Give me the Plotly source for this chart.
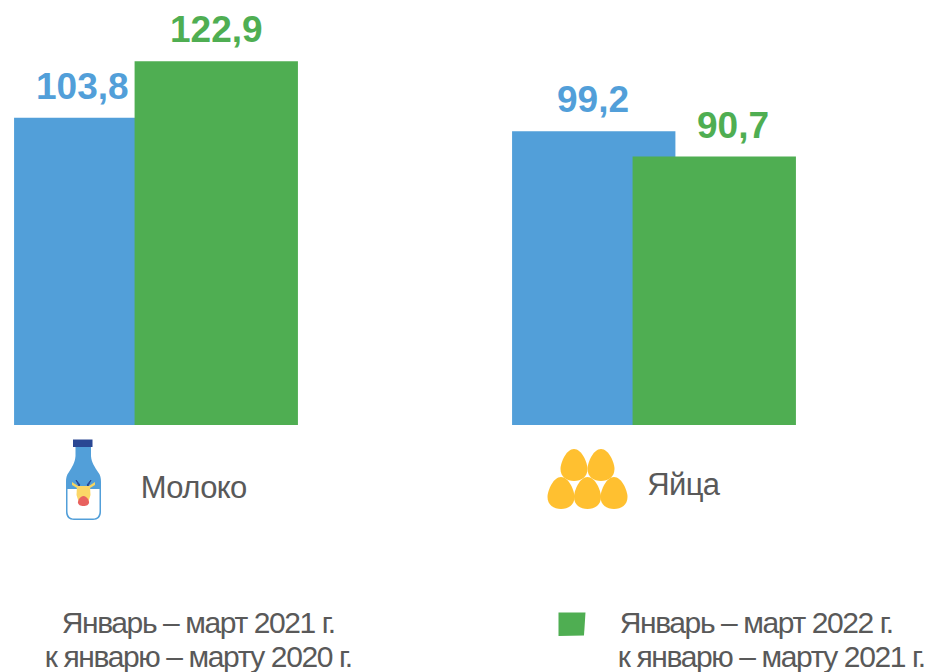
import plotly.graph_objects as go

categories = ["Молоко", "Яйца"]
series_2021 = [103.8, 99.2]
series_2022 = [122.9, 90.7]
legend_2021 = ["Январь – март 2021 г.", "к январю – марту 2020 г."]
legend_2022 = ["Январь – март 2022 г.", "к январю – марту 2021 г."]
BLUE = "#529FD9"
GREEN = "#4FAE52"
GREY = "#595959"
W, H = 928, 672
FONT = "Liberation Sans"


def px(x):
    return x / W


def py(y):
    return 1 - y / H


def path(points):
    return "M" + " L".join(f"{px(x):.5f},{py(y):.5f}" for x, y in points) + " Z"


def curve(start, segments):
    d = f"M{px(start[0]):.5f},{py(start[1]):.5f}"
    for seg in segments:
        if len(seg) == 2:
            d += f" L{px(seg[0]):.5f},{py(seg[1]):.5f}"
        else:
            d += " C" + " ".join(f"{px(seg[i]):.5f},{py(seg[i+1]):.5f}" for i in (0, 2, 4))
    return d + " Z"


def egg(cx, cy, w=27, h=32):
    t = cy - h / 2
    b = cy + h / 2
    l = cx - w / 2
    r = cx + w / 2
    return curve((cx, t), [
        (cx + w * .28, t, r, cy - h * .08, r, cy + h * .12),
        (r, b - h * .12, cx + w * .27, b, cx, b),
        (cx - w * .27, b, l, b - h * .12, l, cy + h * .12),
        (l, cy - h * .08, cx - w * .28, t, cx, t),
    ])


def shape(d, fill, line=None, lw=0):
    return dict(type="path", xref="paper", yref="paper", path=d, fillcolor=fill,
                line=dict(color=line or fill, width=lw), layer="above")


bottle_body = [
    (75.5, 447), (75.5, 456),
    (75, 463, 72, 467, 69, 472),
    (66.5, 475, 66, 478, 66, 482),
    (66, 512), (66, 517, 69, 520, 74, 520),
    (93, 520), (98, 520, 101, 517, 101, 512),
    (101, 482), (101, 478, 100.5, 475, 98, 472),
    (95, 467, 91.5, 463, 91, 456),
    (91, 447),
]
bottle_milk = curve((67.5, 489), [
    (99.5, 489), (99.5, 511), (99.5, 516, 97, 518.5, 93, 518.5),
    (74, 518.5), (70, 518.5, 67.5, 516, 67.5, 511),
])

shapes = [
    shape(curve(bottle_body[0], bottle_body[1:]), BLUE),
    shape(bottle_milk, "#FFFFFF"),
    shape(path([(73, 439.5), (92.5, 439.5), (92.5, 447), (73, 447)]), "#2A4793"),
    shape(path([(72, 482), (78, 486), (77, 488), (72, 485)]), "#F7D560"),
    shape(path([(95, 482), (89, 486), (90, 488), (95, 485)]), "#F7D560"),
    shape(path([(76, 480), (80, 485), (79, 486)]), "#2A4793", "#2A4793", 1),
    shape(path([(91, 480), (87, 485), (88, 486)]), "#2A4793", "#2A4793", 1),
    shape(curve((77, 486), [(90, 486), (90.5, 495), (88, 503), (79, 503), (76.5, 495)]), "#FBD667"),
    shape(egg(83.5, 501, 11, 10), "#E8615F"),
    shape(path([(558.5, 612.5), (585.5, 612.5), (584, 635.5), (558.5, 636)]), GREEN),
]
for cx, cy in [(574, 465), (601, 465), (561, 493), (587.5, 493), (614, 493)]:
    shapes.append(shape(egg(cx, cy), "#FFC030"))

fig = go.Figure()
for name, vals, color, off in [("2021", series_2021, BLUE, -0.2850), ("2022", series_2022, GREEN, -0.0430)]:
    fig.add_trace(go.Bar(x=categories, y=vals, name=name, marker=dict(color=color, line=dict(width=0)),
                         width=0.328, offset=off, showlegend=False))

annotations = []
label_shift_2021 = [-74, -61.5]
label_shift_2022 = [60.5, 78.5]
for vals, color, shifts in [(series_2021, BLUE, label_shift_2021), (series_2022, GREEN, label_shift_2022)]:
    for cat, v, s in zip(categories, vals, shifts):
        annotations.append(dict(x=cat, y=v, xref="x", yref="y",
                                text="<b>" + f"{v:.1f}".replace(".", ",") + "</b>",
                                showarrow=False, yanchor="bottom", xshift=s, yshift=9,
                                font=dict(family=FONT, size=37, color=color)))

for cat, x, y in [(categories[0], 137, 487), (categories[1], 643.5, 484)]:
    annotations.append(dict(x=px(x), y=py(y), xref="paper", yref="paper", text=cat, showarrow=False,
                            xanchor="left", yanchor="middle", font=dict(family=FONT, size=31, color=GREY)))

for lines, xs in [(legend_2021, (198, 198)), (legend_2022, (755.5, 771.5))]:
    for line, x, y in zip(lines, xs, (622, 656)):
        annotations.append(dict(x=px(x), y=py(y), xref="paper", yref="paper", text=line, showarrow=False,
                                xanchor="center", yanchor="middle", align="center",
                                font=dict(family=FONT, size=30, color=GREY)))

fig.update_layout(
    width=W, height=H, margin=dict(l=0, r=0, t=0, b=0), paper_bgcolor="white", plot_bgcolor="white",
    barmode="overlay", shapes=shapes, annotations=annotations,
    xaxis=dict(type="category", range=[-156 / 498, (W - 156) / 498], visible=False),
    yaxis=dict(range=[-(H - 425) / 2.96, 425 / 2.96], visible=False),
)
post = """
document.body.style.margin = '0';
document.querySelectorAll('.annotation-text').forEach(function (t) {
  var s = t.textContent;
  if (s.indexOf('марту') >= 0 || s.indexOf('март ') >= 0) { t.style.letterSpacing = '-1.4px'; }
  else if (s === 'Молоко' || s === 'Яйца') { t.style.letterSpacing = '-0.6px'; }
});
"""
fig.write_html("out.html", post_script=post, config={"displayModeBar": False})
